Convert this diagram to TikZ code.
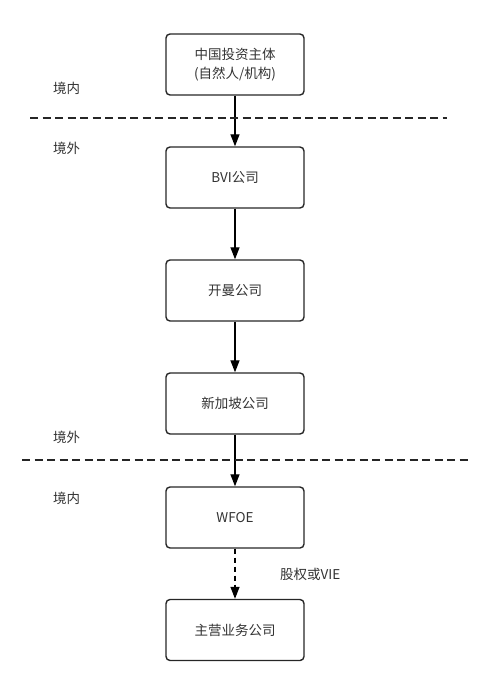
\documentclass[tikz,border=0pt]{standalone}
\usepackage{fontspec}
\setmainfont{Noto Sans CJK SC}
\usetikzlibrary{arrows.meta}
\begin{document}
\begin{tikzpicture}[x=1pt,y=-1pt,
  box/.style={draw=black!85,line width=1.4pt,rounded corners=4pt,minimum width=138pt,minimum height=61pt,inner sep=0pt,font=\fontsize{13.5}{19}\selectfont,text=black!80,align=center},
  lbl/.style={font=\fontsize{13.5}{16}\selectfont,text=black!80,inner sep=0pt},
  arr/.style={line width=1.3pt,draw=black,-{Triangle[length=12pt,width=9pt]}},
  sep/.style={line width=1.3pt,draw=black!85,dash pattern=on 8pt off 4.5pt}]
\useasboundingbox (0,0) rectangle (484,687);
\node[box] (a) at (235,64.5) {中国投资主体\\(自然人/机构)};
\node[box] (b) at (235,177.5) {BVI公司};
\node[box] (c) at (235,290.5) {开曼公司};
\node[box] (d) at (235,403.5) {新加坡公司};
\node[box] (e) at (235,517.5) {WFOE};
\node[box] (f) at (235,630) {主营业务公司};
\draw[arr] (a) -- (b);
\draw[arr] (b) -- (c);
\draw[arr] (c) -- (d);
\draw[arr] (d) -- (e);
\draw[arr,dash pattern=on 5pt off 4pt] (e) -- (f);
\coordinate (s1l) at (30,118); \coordinate (s1r) at (447,118);
\coordinate (s2l) at (22,460); \coordinate (s2r) at (470,460);
\draw[sep] (s1l) -- (s1r);
\draw[sep] (s2l) -- (s2r);
\node[lbl,anchor=west] (l1) at (53,88) {境内};
\node[lbl,anchor=west] (l2) at (53,148) {境外};
\node[lbl,anchor=west] (l3) at (53,437) {境外};
\node[lbl,anchor=west] (l4) at (53,498) {境内};
\node[lbl,anchor=west] (v) at (280,574) {股权或VIE};
\end{tikzpicture}
\end{document}
